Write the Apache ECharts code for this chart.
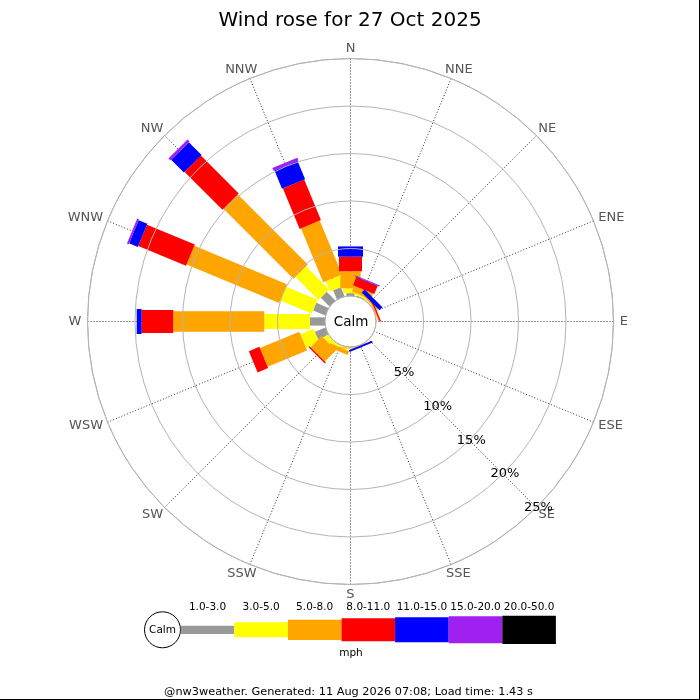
<!DOCTYPE html>
<html>
<head>
<meta charset="utf-8">
<script src="https://cdn.jsdelivr.net/npm/echarts@6/dist/echarts.min.js"></script>
<style>
html,body{margin:0;padding:0;background:#fff;}
#chart{width:700px;height:700px;}
</style>
</head>
<body>
<div id="chart"></div>
<script>
// ---- data ----
const directions = ['N','NNE','NE','ENE','E','ESE','SE','SSE','S','SSW','SW','WSW','W','WNW','NW','NNW'];
const speedBins = ['1.0-3.0','3.0-5.0','5.0-8.0','8.0-11.0','11.0-15.0','15.0-20.0','20.0-50.0'];
const radiusTicks = [0, 5, 10, 15, 20, 25];
// percent of time per direction, by speed bin (mph)
const pct_1_3   = [0.30,0.10,0.05,0.00,0,0,0,0.00,0.00,0.05,0.05,1.20,1.58,1.40,1.30,1.05];
const pct_3_5   = [0.50,0.20,0.10,0.05,0,0,0,0.00,0.05,0.20,0.50,1.50,4.81,3.60,3.44,1.19];
const pct_5_8   = [1.80,0.65,0.15,0.10,0,0,0,0.05,0.10,0.45,1.65,4.50,9.58,10.55,10.42,6.13];
const pct_8_11  = [1.54,0.90,0.00,0.15,0,0,0,0.00,0.00,0.00,0.15,1.20,3.33,5.45,5.64,4.61];
const pct_11_15 = [1.08,0.05,0.45,0.00,0,0,0,0.20,0.00,0.00,0.00,0.00,0.52,1.00,1.90,2.10];
const pct_15_20 = [0.00,0.10,0.00,0.00,0,0,0,0.00,0.00,0.00,0.00,0.00,0.00,0.20,0.30,0.30];
const pct_20_50 = [0,0,0,0,0,0,0,0,0,0,0,0,0,0,0,0];

// ---- styles ----
const binColors = ['#999999','#ffff00','#ffa500','#ff0000','#0000ff','#a020f0','#000000'];
const barWidths = [8.3, 15, 20.3, 23, 25, 27, 28.3];
const FONT = 'DejaVu Sans';
const CX = 350.5, CY = 321.5;

const binValues = [pct_1_3, pct_3_5, pct_5_8, pct_8_11, pct_11_15, pct_15_20, pct_20_50];

// angle axis starts at SE (so the radius labels sit on the SE spoke)
function toAngle(bearing) { return ((bearing - 135) % 360 + 360) % 360; }

// cumulative stacks
const cum = directions.map(() => 0);
const series = [];
binValues.forEach((vals, bi) => {
  const data = vals.map((v, di) => {
    const r0 = cum[di];
    cum[di] += v;
    return [di, r0, cum[di]];
  });
  series.push({
    type: 'custom',
    name: speedBins[bi],
    coordinateSystem: 'polar',
    encode: { angle: 0, radius: 2 },
    silent: true,
    data: data,
    renderItem: function (params, api) {
      const dir = api.value(0), r0 = api.value(1), r1 = api.value(2);
      if (!(r1 > r0)) return null;
      const bearing = dir * 360 / directions.length;
      const ang = toAngle(bearing);
      const p0 = api.coord([r0, ang]);
      const p1 = api.coord([r1, ang]);
      const rad = bearing * Math.PI / 180;
      const nx = Math.cos(rad), ny = Math.sin(rad);
      const h = barWidths[bi] / 2;
      return {
        type: 'polygon',
        shape: { points: [
          [p0[0] + nx * h, p0[1] + ny * h],
          [p1[0] + nx * h, p1[1] + ny * h],
          [p1[0] - nx * h, p1[1] - ny * h],
          [p0[0] - nx * h, p0[1] - ny * h]
        ] },
        style: { fill: binColors[bi] }
      };
    }
  });
});

// direction labels, placed just outside the outer ring (box edge touching a circle)
const dirLabelRadius = 25.55;
const measureCtx = document.createElement('canvas').getContext('2d');
measureCtx.font = '13px "' + FONT + '"';
series.push({
  type: 'custom',
  coordinateSystem: 'polar',
  encode: { angle: 0 },
  silent: true,
  data: directions.map((d, i) => [i]),
  renderItem: function (params, api) {
    const i = api.value(0);
    const bearing = i * 360 / directions.length;
    const p = api.coord([dirLabelRadius, toAngle(bearing)]);
    const rad = bearing * Math.PI / 180;
    const ux = Math.sin(rad), uy = -Math.cos(rad);
    const hw = measureCtx.measureText(directions[i]).width / 2 + 1;
    const hh = 4.5;
    return {
      type: 'text',
      style: { x: p[0] + ux * hw, y: p[1] + uy * hh, text: directions[i], fill: '#555', font: '13px "' + FONT + '"', align: 'center', verticalAlign: 'middle' }
    };
  }
});

// legend graphics
const legendX0 = 180.7, legendW = 53.6, legendY = 629.8;
const graphics = [
  { type: 'circle', shape: { cx: 162.5, cy: 629.8, r: 18 }, style: { fill: '#fff', stroke: '#000', lineWidth: 1 } },
  { type: 'text', style: { x: 162.5, y: 629.8, text: 'Calm', fill: '#000', font: '10.5px "' + FONT + '"', align: 'center', verticalAlign: 'middle' } },
  { type: 'text', style: { x: 351, y: 653.5, text: 'mph', fill: '#000', font: '10.5px "' + FONT + '"', align: 'center', verticalAlign: 'middle' } },
  { type: 'text', style: { x: CX + 0.5, y: CY + 0.5, text: 'Calm', fill: '#000', font: '13.5px "' + FONT + '"', align: 'center', verticalAlign: 'middle' } },
  { type: 'text', style: { x: 348.5, y: 692.5, text: '@nw3weather. Generated: 11 Aug 2026 07:08; Load time: 1.43 s', fill: '#000', font: '11.3px "' + FONT + '"', align: 'center', verticalAlign: 'middle' } },
  { type: 'line', shape: { x1: 699.5, y1: 0, x2: 699.5, y2: 700 }, style: { stroke: '#000', lineWidth: 1 } },
  { type: 'line', shape: { x1: 0, y1: 699.5, x2: 700, y2: 699.5 }, style: { stroke: '#000', lineWidth: 1 } }
];
speedBins.forEach((b, i) => {
  const x = legendX0 + i * legendW;
  graphics.push({ type: 'rect', shape: { x: x, y: legendY - barWidths[i] / 2, width: legendW, height: barWidths[i] }, style: { fill: binColors[i] } });
  graphics.push({ type: 'text', style: { x: x + legendW / 2, y: 607.5, text: b, fill: '#000', font: '10.5px "' + FONT + '"', align: 'center', verticalAlign: 'middle' } });
});

const chart = echarts.init(document.getElementById('chart'), null, { renderer: 'canvas' });
chart.setOption({
  animation: false,
  backgroundColor: '#fff',
  title: {
    text: 'Wind rose for 27 Oct 2025',
    left: 'center',
    top: 6,
    textStyle: { fontSize: 20, fontWeight: 'normal', fontFamily: FONT, color: '#000' }
  },
  polar: { center: [CX, CY], radius: [25.5, 263] },
  angleAxis: {
    type: 'value', min: 0, max: 360, interval: 22.5,
    startAngle: -45, clockwise: true,
    axisLine: { show: true, lineStyle: { color: '#b4b4b4', width: 1 } },
    axisTick: { show: false },
    axisLabel: { show: false },
    splitLine: { show: true, lineStyle: { color: '#333', type: [1, 2], width: 1 } }
  },
  radiusAxis: {
    type: 'value', min: radiusTicks[0], max: radiusTicks[radiusTicks.length - 1], interval: 5,
    axisLine: { show: false },
    axisTick: { show: false },
    axisLabel: {
      showMinLabel: false,
      margin: 0, align: 'center', verticalAlign: 'middle',
      padding: [4, 0, 0, 4],
      formatter: v => (v === 0 ? '' : v + '%'),
      color: '#000', fontSize: 13, fontFamily: FONT
    },
    splitLine: { show: true, lineStyle: { color: '#b4b4b4', width: 1 } },
    z: 10
  },
  series: series,
  graphic: graphics
});
</script>
</body>
</html>
